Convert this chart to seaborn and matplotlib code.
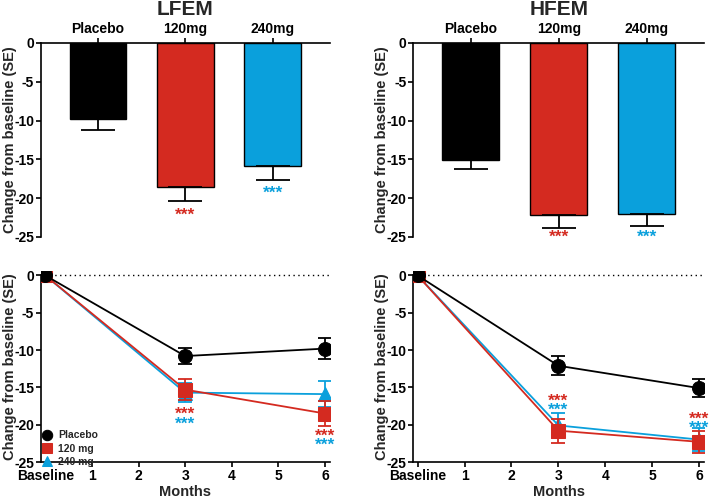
import matplotlib
matplotlib.use("Agg")
import matplotlib.pyplot as plt
import seaborn as sns
import pandas as pd
import numpy as np

sns.set_theme(style="white")
plt.rcParams['font.family'] = ['Liberation Sans', 'DejaVu Sans']
plt.rcParams['font.weight'] = 'bold'
plt.rcParams['axes.labelweight'] = 'bold'
plt.rcParams['axes.titleweight'] = 'bold'

# ---- data ----
groups = ["Placebo", "120mg", "240mg"]
legend_labels = ["Placebo", "120 mg", "240 mg"]
colors = ["#000000", "#D42A20", "#0AA0DC"]
markers = ["o", "s", "^"]

lfem_bar = [-9.8, -18.5, -15.8]
lfem_bar_se = [1.4, 1.9, 1.9]
hfem_bar = [-15.1, -22.2, -22.0]
hfem_bar_se = [1.2, 1.6, 1.6]

months = [0, 3, 6]
month_ticks = [0, 1, 2, 3, 4, 5, 6]
month_labels = ["Baseline", "1", "2", "3", "4", "5", "6"]

lfem_placebo = [0, -10.8, -9.8]
lfem_placebo_se = [0, 1.1, 1.4]
lfem_120 = [0, -15.3, -18.5]
lfem_120_se = [0, 1.4, 1.7]
lfem_240 = [0, -15.7, -15.9]
lfem_240_se = [0, 1.3, 1.7]

hfem_placebo = [0, -12.1, -15.1]
hfem_placebo_se = [0, 1.3, 1.2]
hfem_120 = [0, -20.8, -22.3]
hfem_120_se = [0, 1.6, 1.5]
hfem_240 = [0, -20.1, -22.0]
hfem_240_se = [0, 1.7, 1.5]

stars = "***"
# significance-star label heights (annotation positions)
lfem_bar_star_y = [-22.2, -19.3]
hfem_bar_star_y = [-25.0, -25.0]

fig = plt.figure(figsize=(7.09, 5.0), dpi=100)
ax_tl = fig.add_axes([0.058, 0.526, 0.407, 0.388])
ax_tr = fig.add_axes([0.583, 0.526, 0.410, 0.388])
ax_bl = fig.add_axes([0.058, 0.076, 0.407, 0.382])
ax_br = fig.add_axes([0.583, 0.076, 0.410, 0.382])

TICK_FS = 10
LABEL_FS = 10.5
STAR_FS = 12.5


def style_ticks(ax):
    ax.tick_params(axis="both", which="both", direction="out", length=3.5,
                   width=1.2, color="black", labelsize=TICK_FS, pad=1.5)
    for t in ax.get_xticklabels() + ax.get_yticklabels():
        t.set_fontweight("bold")
        t.set_color("black")


def bar_panel(ax, title, vals, ses, star_y):
    df = pd.DataFrame({"group": groups, "value": vals})
    sns.barplot(data=df, x="group", y="value", hue="group", palette=colors,
                order=groups, hue_order=groups, legend=False, ax=ax,
                width=0.65, edgecolor="black", linewidth=1.0, saturation=1)
    for i, (v, s) in enumerate(zip(vals, ses)):
        ax.errorbar(i, v, yerr=[[s], [0]], fmt="none", ecolor="black",
                    elinewidth=1.3, capsize=12.5, capthick=1.3, zorder=3)
    for i, y in zip([1, 2], star_y):
        ax.text(i, y, stars, color=colors[i], ha="center", va="center",
                fontsize=STAR_FS, fontweight="bold", clip_on=False)
    ax.set_ylim(-25, 0)
    ax.set_xlim(-0.65, 2.65)
    ax.set_yticks([0, -5, -10, -15, -20, -25])
    ax.set_yticklabels(["0", "-5", "-10", "-15", "-20", "-25"])
    ax.xaxis.tick_top()
    ax.set_xlabel("")
    ax.set_ylabel("Change from baseline (SE)", fontsize=LABEL_FS, fontweight="bold")
    ax.yaxis.set_label_coords(-0.083, 0.5)
    ax.set_title(title, fontsize=15, fontweight="bold", pad=20)
    for sp in ["right", "bottom"]:
        ax.spines[sp].set_visible(False)
    for sp in ["left", "top"]:
        ax.spines[sp].set_color("black")
        ax.spines[sp].set_linewidth(1.2)
    style_ticks(ax)
    ax.tick_params(axis="x", top=True, bottom=False, labeltop=True, labelbottom=False)
    ax.tick_params(axis="y", left=True)


def line_panel(ax, series, ses, star_pos, show_legend):
    rows = []
    for g, ys in zip(legend_labels, series):
        for m, y in zip(months, ys):
            rows.append({"month": m, "value": y, "group": g})
    df = pd.DataFrame(rows)
    ax.plot([0, 6.1], [0, 0], linestyle=(0, (1, 2.5)), color="black", lw=1.0, zorder=1)
    zorders = [5, 4, 3]
    for g, c, mk, ys, ss, z in zip(legend_labels, colors, markers, series, ses, zorders):
        sub = df[df["group"] == g]
        sns.lineplot(data=sub, x="month", y="value", color=c, marker=mk,
                     markersize=10, markeredgecolor=c, linewidth=1.3, ax=ax,
                     label=g, zorder=z, errorbar=None)
        ax.errorbar(months[1:], ys[1:], yerr=ss[1:], fmt="none", ecolor=c,
                    elinewidth=1.3, capsize=5, capthick=1.3, zorder=z)
    for (x, y, c) in star_pos:
        ax.text(x, y, stars, color=c, ha="center", va="center", fontsize=STAR_FS,
                fontweight="bold", zorder=6)
    ax.set_xlim(-0.09, 6.1)
    ax.set_ylim(-25, 0.6)
    ax.set_xticks(month_ticks)
    ax.set_xticklabels(month_labels)
    ax.set_yticks([0, -5, -10, -15, -20, -25])
    ax.set_yticklabels(["0", "-5", "-10", "-15", "-20", "-25"])
    ax.set_xlabel("Months", fontsize=LABEL_FS, fontweight="bold", labelpad=1.5)
    ax.set_ylabel("Change from baseline (SE)", fontsize=LABEL_FS, fontweight="bold")
    ax.yaxis.set_label_coords(-0.083, 0.5)
    for sp in ["right", "top"]:
        ax.spines[sp].set_visible(False)
    for sp in ["left", "bottom"]:
        ax.spines[sp].set_color("black")
        ax.spines[sp].set_linewidth(1.2)
    ax.spines["left"].set_bounds(-25, 0)
    style_ticks(ax)
    ax.tick_params(axis="x", bottom=True)
    ax.tick_params(axis="y", left=True)
    if show_legend:
        leg = ax.legend(loc="lower left", frameon=False, fontsize=7.5,
                        handlelength=1.0, handletextpad=0.5, borderaxespad=0.0,
                        labelspacing=0.3, borderpad=0.1, markerscale=0.75,
                        bbox_to_anchor=(0.0, -0.03))
        for t in leg.get_texts():
            t.set_fontweight("bold")
        for h in leg.legend_handles:
            h.set_linestyle("none")
    else:
        lg = ax.get_legend()
        if lg is not None:
            lg.remove()


bar_panel(ax_tl, "LFEM", lfem_bar, lfem_bar_se, lfem_bar_star_y)
bar_panel(ax_tr, "HFEM", hfem_bar, hfem_bar_se, hfem_bar_star_y)

line_panel(ax_bl, [lfem_placebo, lfem_120, lfem_240],
           [lfem_placebo_se, lfem_120_se, lfem_240_se],
           [(3, -18.6, colors[1]), (3, -19.9, colors[2]),
            (6, -21.5, colors[1]), (6, -22.8, colors[2])], True)
line_panel(ax_br, [hfem_placebo, hfem_120, hfem_240],
           [hfem_placebo_se, hfem_120_se, hfem_240_se],
           [(3, -16.8, colors[1]), (3, -18.1, colors[2]),
            (6, -19.3, colors[1]), (6, -20.5, colors[2])], False)

fig.savefig("out.png", dpi=100)
